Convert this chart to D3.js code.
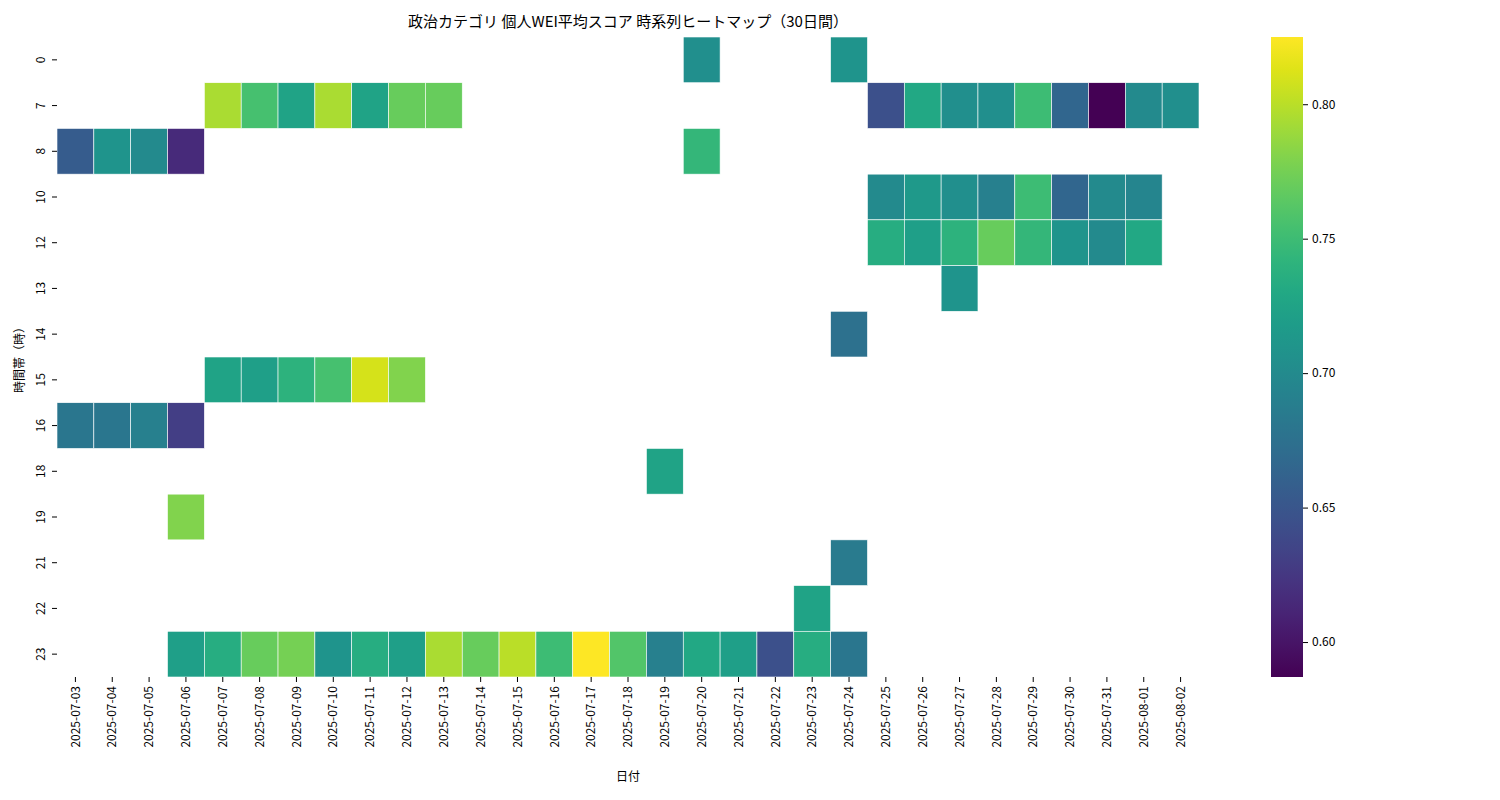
<!DOCTYPE html>
<html><head><meta charset="utf-8">
<script src="https://cdn.jsdelivr.net/npm/d3@7"></script>
<style>body{margin:0;background:#fff}text{font-family:"Noto Sans CJK JP","DejaVu Sans",sans-serif}</style>
</head><body><svg id="c" width="1500" height="800"></svg>
<script>
// Data
const dates = d3.timeDay.range(new Date(2025, 6, 3), new Date(2025, 7, 3)).map(d3.timeFormat('%Y-%m-%d'));
const hours = [0, 7, 8, 10, 12, 13, 14, 15, 16, 18, 19, 21, 22, 23];
const colorTicks = [0.60, 0.65, 0.70, 0.75, 0.80];
const cells = [
  ['2025-07-20', 0, 0.705], ['2025-07-24', 0, 0.71],
  ['2025-07-07', 7, 0.795], ['2025-07-08', 7, 0.755], ['2025-07-09', 7, 0.725], ['2025-07-10', 7, 0.795],
  ['2025-07-11', 7, 0.725], ['2025-07-12', 7, 0.77], ['2025-07-13', 7, 0.77], ['2025-07-25', 7, 0.645],
  ['2025-07-26', 7, 0.73], ['2025-07-27', 7, 0.705], ['2025-07-28', 7, 0.705], ['2025-07-29', 7, 0.75],
  ['2025-07-30', 7, 0.665], ['2025-07-31', 7, 0.587], ['2025-08-01', 7, 0.70], ['2025-08-02', 7, 0.705],
  ['2025-07-03', 8, 0.655], ['2025-07-04', 8, 0.71], ['2025-07-05', 8, 0.70], ['2025-07-06', 8, 0.615], ['2025-07-20', 8, 0.745],
  ['2025-07-25', 10, 0.70], ['2025-07-26', 10, 0.715], ['2025-07-27', 10, 0.705], ['2025-07-28', 10, 0.69],
  ['2025-07-29', 10, 0.75], ['2025-07-30', 10, 0.665], ['2025-07-31', 10, 0.70], ['2025-08-01', 10, 0.695],
  ['2025-07-25', 12, 0.735], ['2025-07-26', 12, 0.72], ['2025-07-27', 12, 0.74], ['2025-07-28', 12, 0.77],
  ['2025-07-29', 12, 0.745], ['2025-07-30', 12, 0.71], ['2025-07-31', 12, 0.70], ['2025-08-01', 12, 0.73],
  ['2025-07-27', 13, 0.71],
  ['2025-07-24', 14, 0.675],
  ['2025-07-07', 15, 0.725], ['2025-07-08', 15, 0.72], ['2025-07-09', 15, 0.74], ['2025-07-10', 15, 0.755],
  ['2025-07-11', 15, 0.81], ['2025-07-12', 15, 0.78],
  ['2025-07-03', 16, 0.68], ['2025-07-04', 16, 0.68], ['2025-07-05', 16, 0.69], ['2025-07-06', 16, 0.63],
  ['2025-07-19', 18, 0.725],
  ['2025-07-06', 19, 0.78],
  ['2025-07-24', 21, 0.685],
  ['2025-07-23', 22, 0.725],
  ['2025-07-06', 23, 0.72], ['2025-07-07', 23, 0.735], ['2025-07-08', 23, 0.77], ['2025-07-09', 23, 0.775],
  ['2025-07-10', 23, 0.71], ['2025-07-11', 23, 0.735], ['2025-07-12', 23, 0.72], ['2025-07-13', 23, 0.795],
  ['2025-07-14', 23, 0.77], ['2025-07-15', 23, 0.80], ['2025-07-16', 23, 0.75], ['2025-07-17', 23, 0.825],
  ['2025-07-18', 23, 0.76], ['2025-07-19', 23, 0.69], ['2025-07-20', 23, 0.73], ['2025-07-21', 23, 0.72],
  ['2025-07-22', 23, 0.645], ['2025-07-23', 23, 0.735], ['2025-07-24', 23, 0.68]
];

(function draw () {
  const vmin = 0.587, vmax = 0.825;
  const svg = d3.select('#c');
  const pL = 57, pR = 1199, pT = 37, pB = 677;

  const x = d3.scaleBand().domain(dates).range([pL, pR]);
  const y = d3.scaleBand().domain(hours).range([pT, pB]);
  const color = d3.scaleSequential(d3.interpolateViridis).domain([vmin, vmax]);

  svg.append('g').selectAll('rect').data(cells).join('rect')
    .attr('x', d => x(d[0])).attr('y', d => y(d[1]))
    .attr('width', x.bandwidth()).attr('height', y.bandwidth())
    .attr('fill', d => color(d[2]))
    .attr('stroke', '#fff').attr('stroke-width', 0.6);

  const xAxis = svg.append('g').attr('transform', `translate(0,${pB})`)
    .call(d3.axisBottom(x).tickSize(5));
  xAxis.select('.domain').remove();
  xAxis.selectAll('text').attr('transform', 'rotate(-90)').attr('text-anchor', 'end')
    .attr('x', -9).attr('y', 0).attr('dy', '0.35em').attr('font-size', 12).attr('fill', '#000');

  const yAxis = svg.append('g').attr('transform', `translate(${pL},0)`)
    .call(d3.axisLeft(y).tickSize(5));
  yAxis.select('.domain').remove();
  yAxis.selectAll('.tick text')
    .attr('transform', 'translate(-16,0) rotate(-90)')
    .attr('x', 0).attr('y', 0).attr('text-anchor', 'middle').attr('dy', '0.35em')
    .attr('font-size', 12).attr('fill', '#000');

  svg.append('text').attr('x', (pL + pR) / 2).attr('y', 27).attr('text-anchor', 'middle')
    .attr('font-size', 15).text('政治カテゴリ 個人WEI平均スコア 時系列ヒートマップ（30日間）');
  svg.append('text').attr('x', (pL + pR) / 2).attr('y', 781).attr('text-anchor', 'middle')
    .attr('font-size', 12).text('日付');
  svg.append('text').attr('transform', `translate(24,${(pT + pB) / 2}) rotate(-90)`)
    .attr('text-anchor', 'middle').attr('font-size', 12).text('時間帯（時）');

  // Colorbar
  const cbX = 1271, cbW = 32;
  const grad = svg.append('defs').append('linearGradient').attr('id', 'g')
    .attr('x1', 0).attr('x2', 0).attr('y1', 1).attr('y2', 0);
  d3.range(0, 1.0001, 0.05).forEach(t => grad.append('stop').attr('offset', t).attr('stop-color', d3.interpolateViridis(t)));
  svg.append('rect').attr('x', cbX).attr('y', pT).attr('width', cbW).attr('height', pB - pT).attr('fill', 'url(#g)');
  const cy = d3.scaleLinear().domain([vmin, vmax]).range([pB, pT]);
  const cAxis = svg.append('g').attr('transform', `translate(${cbX + cbW},0)`)
    .call(d3.axisRight(cy).tickValues(colorTicks).tickFormat(d3.format('.2f')).tickSize(5).tickPadding(4));
  cAxis.select('.domain').remove();
  cAxis.selectAll('text').attr('font-size', 12).attr('fill', '#000');
})();
</script></body></html>
